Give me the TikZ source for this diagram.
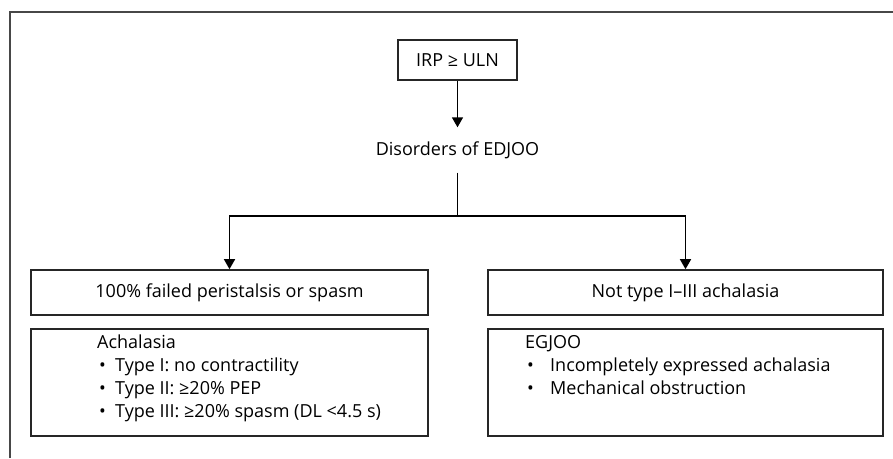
\documentclass[tikz,border=0pt]{standalone}
\usepackage{fontspec}
\setmainfont{Open Sans}
\usetikzlibrary{arrows.meta}
\tikzset{
  box/.style={draw=black!85,line width=1.6pt,inner sep=0pt},
  frameline/.style={draw=black!72,line width=1.8pt},
  link/.style={line width=1.5pt},
  tip/.style={-{Triangle[width=11pt,length=10pt]}}
}
\newcommand{\itm}[1]{\makebox[#1][l]{\textbullet}}
\begin{document}
\begin{tikzpicture}[x=1pt,y=-1pt,font=\fontsize{18}{23}\selectfont] % scale = 1
\useasboundingbox (0,0) rectangle (893,458);
\draw[frameline] (10,458) -- (10,12) -- (893,12);
\node[box,minimum width=119pt,minimum height=40pt] (irp) at (457.5,60) {IRP ≥ ULN};
\node[inner sep=0pt,minimum height=45pt] (edj) at (457.5,150) {Disorders of EDJOO};
\coordinate (split) at (457.5,216);
\node[box,minimum width=397pt,minimum height=45pt] (fail) at (229.5,292.5) {100\% failed peristalsis or spasm};
\node[box,minimum width=395pt,minimum height=45pt] (nott) at (685.5,292.5) {Not type I–III achalasia};
\node[box,minimum width=397pt,minimum height=107pt] (ach) at (229.5,382.5) {};
\node[box,minimum width=395pt,minimum height=107pt] (egj) at (685.5,382.5) {};
\node[anchor=north west,align=left,inner sep=0pt] (achtxt) at (97,335) {Achalasia\\
  \hspace{2pt}\itm{16pt}Type I: no contractility\\
  \hspace{2pt}\itm{16pt}Type II: ≥20\% PEP\\
  \hspace{2pt}\itm{16pt}Type III: ≥20\% spasm (DL <4.5 s)};
\node[anchor=north west,align=left,inner sep=0pt] (egjtxt) at (525,335) {EGJOO\\
  \hspace{2pt}\itm{23pt}Incompletely expressed achalasia\\
  \hspace{2pt}\itm{23pt}Mechanical obstruction};
\draw[link,tip] (irp) -- (edj);
\draw[link] (edj) -- (split);
\draw[link,tip] (split) -| (fail.north);
\draw[link,tip] (split) -| (nott.north);
\end{tikzpicture}
\end{document}
